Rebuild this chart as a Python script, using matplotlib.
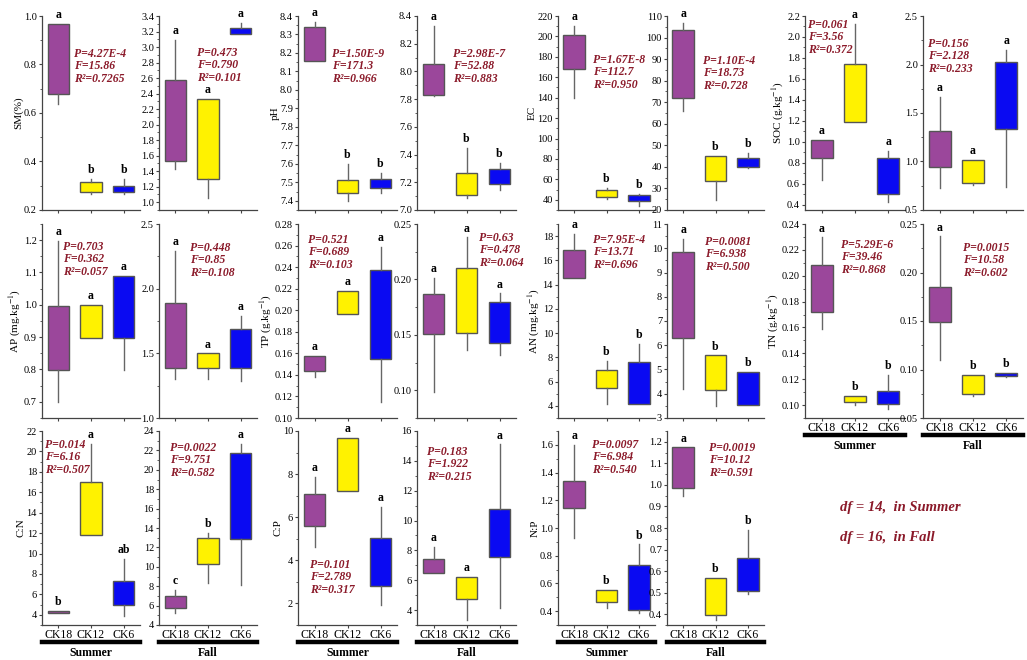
import matplotlib
matplotlib.use("Agg")
import matplotlib.pyplot as plt
from matplotlib.ticker import MultipleLocator, AutoMinorLocator, FormatStrFormatter

plt.rcParams['font.family'] = ['Liberation Serif', 'DejaVu Serif']
plt.rcParams['mathtext.fontset'] = 'stix'

groups = ['CK18', 'CK12', 'CK6']
colors = ['#9B479B', '#FFF200', '#0A0AF2']
stat_color = '#8B1A2A'

# each box: (low whisker, Q1, Q3, high whisker)
sm_summer = [(0.637, 0.679, 0.968, 0.968), (0.265, 0.274, 0.316, 0.327), (0.268, 0.276, 0.299, 0.327)]
sm_fall = [(1.43, 1.53, 2.57, 3.09), (1.056, 1.30, 2.33, 2.33), (3.17, 3.17, 3.24, 3.31)]
ph_summer = [(8.157, 8.157, 8.342, 8.369), (7.40, 7.44, 7.51, 7.60), (7.44, 7.47, 7.52, 7.55)]
ph_fall = [(7.82, 7.83, 8.05, 8.33), (7.087, 7.108, 7.27, 7.45), (7.144, 7.188, 7.296, 7.34)]
ec_summer = [(139.5, 168.3, 201.0, 210.2), (40.6, 42.3, 49.8, 52.0), (34.0, 39.0, 44.6, 45.6)]
ec_fall = [(66.1, 72.0, 103.3, 106.9), (24.7, 33.6, 45.1, 45.1), (39.4, 40.0, 44.05, 46.4)]
soc_summer = [(0.64, 0.848, 1.017, 1.017), (1.193, 1.193, 1.743, 2.126), (0.43, 0.50, 0.85, 0.91)]
soc_fall = [(0.725, 0.94, 1.315, 1.668), (0.76, 0.777, 1.013, 1.013), (0.733, 1.332, 2.025, 2.153)]
ap_summer = [(0.698, 0.798, 0.996, 1.198), (0.896, 0.896, 1.0, 1.0), (0.798, 0.896, 1.09, 1.09)]
ap_fall = [(1.298, 1.388, 1.892, 2.293), (1.298, 1.388, 1.499, 1.499), (1.287, 1.383, 1.685, 1.791)]
tp_summer = [(0.1382, 0.1434, 0.1574, 0.1574), (0.1962, 0.1962, 0.2179, 0.2179), (0.1149, 0.1552, 0.2369, 0.2586)]
tp_fall = [(0.0985, 0.1504, 0.1866, 0.2017), (0.1362, 0.1513, 0.2102, 0.2379), (0.1317, 0.1429, 0.180, 0.1875)]
an_summer = [(14.56, 14.56, 16.82, 18.19), (4.15, 5.5, 7.0, 7.7), (4.15, 4.15, 7.6, 9.1)]
an_fall = [(4.2, 6.31, 9.83, 10.38), (3.48, 4.17, 5.58, 5.58), (3.52, 3.52, 4.90, 4.90)]
tn_summer = [(0.159, 0.1718, 0.2085, 0.2297), (0.100, 0.102, 0.1072, 0.1072), (0.097, 0.1008, 0.111, 0.1232)]
tn_fall = [(0.1103, 0.149, 0.1852, 0.2372), (0.0724, 0.0752, 0.0948, 0.0948), (0.092, 0.0931, 0.0966, 0.0966)]
cn_summer = [(4.16, 4.16, 4.39, 4.39), (11.79, 11.79, 17.03, 20.7), (3.9, 4.98, 7.27, 9.46)]
cn_fall = [(5.2, 5.8, 7.04, 7.6), (8.37, 10.26, 12.94, 13.52), (8.14, 12.84, 21.77, 22.7)]
cp_summer = [(4.63, 5.59, 7.06, 7.88), (7.21, 7.21, 9.69, 9.69), (1.95, 2.80, 5.02, 6.47)]
cp_fall = [(6.51, 6.51, 7.41, 8.26), (3.33, 4.72, 6.24, 6.24), (4.11, 7.59, 10.8, 15.1)]
np_summer = [(0.925, 1.147, 1.34, 1.60), (0.42, 0.468, 0.552, 0.552), (0.39, 0.407, 0.73, 0.882)]
np_fall = [(0.95, 0.985, 1.174, 1.174), (0.373, 0.395, 0.570, 0.570), (0.495, 0.51, 0.662, 0.79)]

letters = {
    'sm_summer': 'abb', 'sm_fall': 'aaa', 'ph_summer': 'abb', 'ph_fall': 'abb',
    'ec_summer': 'abb', 'ec_fall': 'abb', 'soc_summer': 'aaa', 'soc_fall': 'aaa',
    'ap_summer': 'aaa', 'ap_fall': 'aaa', 'tp_summer': 'aaa', 'tp_fall': 'aaa',
    'an_summer': 'abb', 'an_fall': 'abb', 'tn_summer': 'abb', 'tn_fall': 'abb',
    'cn_summer': ['b', 'a', 'ab'], 'cn_fall': 'cba', 'cp_summer': 'aaa', 'cp_fall': 'aaa',
    'np_summer': 'abb', 'np_fall': 'abb',
}

stats = {
    'sm_summer': ('4.27E-4', '15.86', '0.7265'), 'sm_fall': ('0.473', '0.790', '0.101'),
    'ph_summer': ('1.50E-9', '171.3', '0.966'), 'ph_fall': ('2.98E-7', '52.88', '0.883'),
    'ec_summer': ('1.67E-8', '112.7', '0.950'), 'ec_fall': ('1.10E-4', '18.73', '0.728'),
    'soc_summer': ('0.061', '3.56', '0.372'), 'soc_fall': ('0.156', '2.128', '0.233'),
    'ap_summer': ('0.703', '0.362', '0.057'), 'ap_fall': ('0.448', '0.85', '0.108'),
    'tp_summer': ('0.521', '0.689', '0.103'), 'tp_fall': ('0.63', '0.478', '0.064'),
    'an_summer': ('7.95E-4', '13.71', '0.696'), 'an_fall': ('0.0081', '6.938', '0.500'),
    'tn_summer': ('5.29E-6', '39.46', '0.868'), 'tn_fall': ('0.0015', '10.58', '0.602'),
    'cn_summer': ('0.014', '6.16', '0.507'), 'cn_fall': ('0.0022', '9.751', '0.582'),
    'cp_summer': ('0.101', '2.789', '0.317'), 'cp_fall': ('0.183', '1.922', '0.215'),
    'np_summer': ('0.0097', '6.984', '0.540'), 'np_fall': ('0.0019', '10.12', '0.591'),
}

W, H = 1027, 660
fig = plt.figure(figsize=(W / 100, H / 100), dpi=100)

# name, data, left px, top px, width px, ylim, major step, format, ylabel, stats text px, show xlabels
panels = [
    ('sm_summer', sm_summer, 42, 16, 98, (0.2, 1.0), 0.2, '%.1f', 'SM(%)', (74, 48), False),
    ('sm_fall', sm_fall, 159, 16, 98, (0.9, 3.4), 0.2, '%.1f', None, (197, 47), False),
    ('ph_summer', ph_summer, 298, 16, 99, (7.35, 8.4), 0.1, '%.1f', 'pH', (332, 48), False),
    ('ph_fall', ph_fall, 417, 16, 99, (7.0, 8.4), 0.2, '%.1f', None, (453, 48), False),
    ('ec_summer', ec_summer, 558, 16, 97, (30, 220), 20, '%d', 'EC', (593, 54), False),
    ('ec_fall', ec_fall, 667, 16, 97, (20, 110), 10, '%d', None, (703, 55), False),
    ('soc_summer', soc_summer, 805, 16, 100, (0.35, 2.2), 0.2, '%.1f', 'SOC (g.kg$^{-1}$)', (808, 19), False),
    ('soc_fall', soc_fall, 923, 16, 100, (0.5, 2.5), 0.5, '%.1f', None, (928, 38), False),
    ('ap_summer', ap_summer, 42, 224, 98, (0.65, 1.25), 0.1, '%.1f', 'AP (mg.kg$^{-1}$)', (63, 241), False),
    ('ap_fall', ap_fall, 159, 224, 98, (1.0, 2.5), 0.5, '%.1f', None, (190, 242), False),
    ('tp_summer', tp_summer, 298, 224, 99, (0.10, 0.28), 0.02, '%.2f', 'TP (g.kg$^{-1}$)', (308, 234), False),
    ('tp_fall', tp_fall, 417, 224, 99, (0.075, 0.25), 0.05, '%.2f', None, (479, 232), False),
    ('an_summer', an_summer, 558, 224, 97, (3, 19), 2, '%d', 'AN (mg.kg$^{-1}$)', (593, 234), False),
    ('an_fall', an_fall, 667, 224, 97, (3, 11), 1, '%d', None, (705, 236), False),
    ('tn_summer', tn_summer, 805, 224, 100, (0.09, 0.24), 0.02, '%.2f', 'TN (g.kg$^{-1}$)', (841, 239), True),
    ('tn_fall', tn_fall, 923, 224, 100, (0.05, 0.25), 0.05, '%.2f', None, (963, 242), True),
    ('cn_summer', cn_summer, 42, 431, 98, (3, 22), 2, '%d', 'C:N', (45, 439), True),
    ('cn_fall', cn_fall, 159, 431, 98, (4, 24), 2, '%d', None, (170, 442), True),
    ('cp_summer', cp_summer, 298, 431, 99, (1, 10), 2, '%d', 'C:P', (310, 559), True),
    ('cp_fall', cp_fall, 417, 431, 99, (3, 16), 2, '%d', None, (427, 446), True),
    ('np_summer', np_summer, 558, 431, 97, (0.3, 1.7), 0.2, '%.1f', 'N:P', (592, 439), True),
    ('np_fall', np_fall, 667, 431, 97, (0.35, 1.25), 0.1, '%.1f', None, (709, 442), True),
]

for name, data, left, top, width, ylim, step, fmt, ylabel, tpos, xlab in panels:
    ax = fig.add_axes([left / W, 1 - (top + 194) / H, width / W, 194 / H])
    boxes = [dict(whislo=d[0], q1=d[1], med=(d[1] + d[2]) / 2, q3=d[2], whishi=d[3], fliers=[])
             for d in data]
    art = ax.bxp(boxes, positions=[1, 2, 3], widths=0.66, patch_artist=True, showcaps=False,
                 boxprops=dict(edgecolor='#555555', linewidth=1.0),
                 whiskerprops=dict(color='#666666', linewidth=1.0),
                 medianprops=dict(visible=False))
    for patch, c in zip(art['boxes'], colors):
        patch.set_facecolor(c)
    for i, d in enumerate(data):
        ax.annotate(letters[name][i], (i + 1, d[3]), xytext=(0, 2), textcoords='offset points',
                    ha='center', va='bottom', fontsize=8.5, fontweight='bold')
    ax.set_xlim(0.5, 3.5)
    ax.set_ylim(*ylim)
    ax.yaxis.set_major_locator(MultipleLocator(step))
    ax.yaxis.set_minor_locator(AutoMinorLocator(2))
    ax.yaxis.set_major_formatter(FormatStrFormatter(fmt))
    ax.set_xticks([1, 2, 3])
    ax.set_xticklabels(groups if xlab else [])
    for s in ['top', 'right']:
        ax.spines[s].set_visible(False)
    for s in ['left', 'bottom']:
        ax.spines[s].set_color('#444444')
        ax.spines[s].set_linewidth(0.9)
    ax.tick_params(axis='both', which='major', length=2.4, width=0.8, color='#444444',
                   labelsize=7.5, pad=1.2)
    ax.tick_params(axis='y', which='minor', length=1.5, width=0.6, color='#444444')
    ax.tick_params(axis='x', labelsize=8.5, pad=0.5)
    if ylabel:
        ax.set_ylabel(ylabel, fontsize=8, labelpad=0.5)
    p, f, r = stats[name]
    fig.text(tpos[0] / W, 1 - tpos[1] / H, 'P=%s\nF=%s\nR²=%s' % (p, f, r),
             color=stat_color, fontsize=8.5, fontweight='bold', fontstyle='italic',
             va='top', ha='left', linespacing=1.05)
    if xlab:
        bottom = top + 194
        season = 'Summer' if name.endswith('summer') else 'Fall'
        fig.add_artist(plt.Line2D([left / W, (left + width) / W],
                                  [1 - (bottom + 17) / H] * 2, color='black', linewidth=3.2))
        fig.text((left + width / 2) / W, 1 - (bottom + 28) / H, season, ha='center', va='center',
                 fontsize=8.5, fontweight='bold')

fig.text(840 / W, 1 - 507 / H, 'df = 14,  in Summer', color=stat_color, fontsize=10.5,
         fontweight='bold', fontstyle='italic', va='center')
fig.text(840 / W, 1 - 538 / H, 'df = 16,  in Fall', color=stat_color, fontsize=10.5,
         fontweight='bold', fontstyle='italic', va='center')

fig.savefig('out.png', dpi=100)
